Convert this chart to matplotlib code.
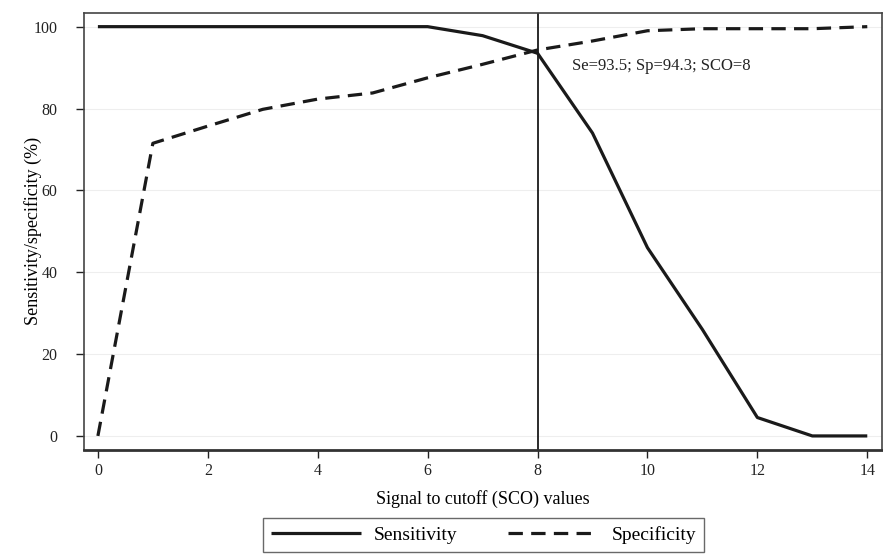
import numpy as np
import matplotlib
matplotlib.use("Agg")
import matplotlib.pyplot as plt

plt.rcParams['font.family'] = ['Liberation Serif', 'DejaVu Serif']

# Values
sco = [0, 1, 2, 3, 4, 5, 6, 7, 8, 9, 10, 11, 12, 13, 14]
sensitivity = [100, 100, 100, 100, 100, 100, 100, 97.8, 93.5, 74, 46, 26, 4.5, 0, 0]
specificity = [0, 71.5, 75.7, 79.8, 82.3, 83.8, 87.5, 90.8, 94.3, 96.5, 99, 99.5, 99.5, 99.5, 100]
cutoff = 8
note = "Se=93.5; Sp=94.3; SCO=8"

fig = plt.figure(figsize=(8.83, 5.54), dpi=100)
ax = fig.add_axes([0.095, 0.188, 0.904, 0.789])

ax.plot(sco, sensitivity, color="#1a1a1a", lw=2.3, label="Sensitivity", solid_capstyle="butt")
ax.plot(sco, specificity, color="#1a1a1a", lw=2.3, dashes=(4.5, 2.6), label="Specificity")
ax.axvline(cutoff, color="#1a1a1a", lw=1.3)
ax.text(8.63, 90.5, note, fontsize=12, color="#222222", va="center")

ax.set_xlim(-0.255, 14.27)
ax.set_ylim(-3.4, 103.4)
ax.set_xticks(range(0, 15, 2))
ax.set_yticks(range(0, 101, 20))
ax.yaxis.grid(True, color="#eeeeee", lw=0.8)
ax.set_axisbelow(True)
ax.tick_params(labelsize=11.5, direction="out", length=6, width=1, colors="#222222")
ax.tick_params(axis="y", pad=13)
for side in ["left", "top", "right"]:
    ax.spines[side].set_linewidth(1.2)
    ax.spines[side].set_color("#444444")
ax.spines["bottom"].set_linewidth(2.0)
ax.spines["bottom"].set_color("#333333")

ax.set_xlabel("Signal to cutoff (SCO) values", fontsize=13, labelpad=8)
ax.set_ylabel("Sensitivity/specificity (%)", fontsize=13, labelpad=-6)

leg = fig.legend(loc="upper center", bbox_to_anchor=(0.5476, 0.082), ncol=2,
                 fontsize=14, handlelength=4.6, columnspacing=2.6, frameon=True,
                 fancybox=False, edgecolor="#444444", borderpad=0.4, handletextpad=0.7)
leg.get_frame().set_linewidth(1.0)

fig.savefig("out.png", dpi=100)
